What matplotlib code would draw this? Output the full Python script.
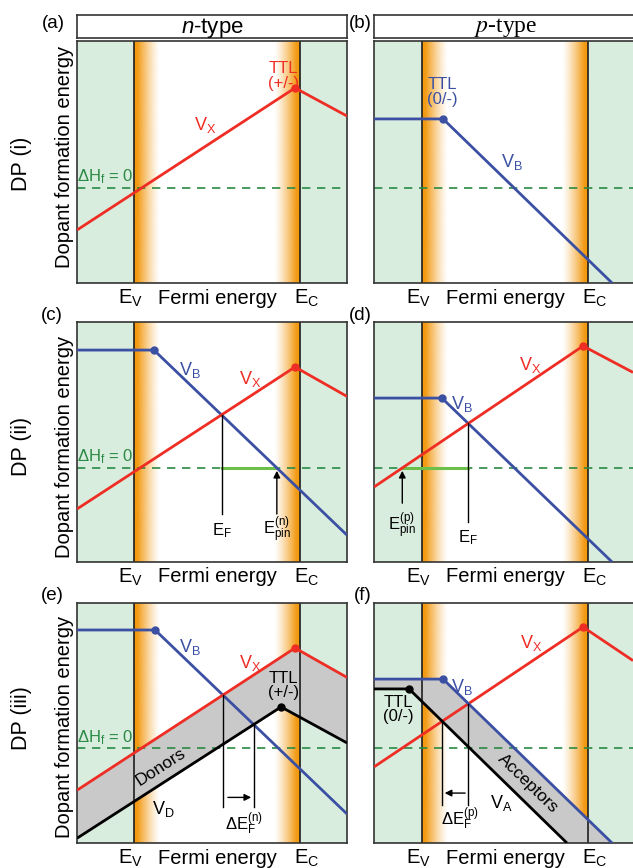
## Dopant formation energy schematics, n-type / p-type, three doping principles

import numpy as np
import matplotlib.pyplot as plt
from matplotlib.colors import to_rgb

plt.rcParams['font.family'] = 'Liberation Sans'
plt.rcParams['mathtext.fontset'] = 'custom'
plt.rcParams['mathtext.rm'] = 'Liberation Sans'
plt.rcParams['mathtext.it'] = 'Liberation Sans:italic'

RED = '#ee2d24'
BLUE = '#3b50a3'
DGREEN = '#2a8a43'
LGREEN = '#6cc04a'
GREEN_BG = '#d9eddf'
ORANGE = '#f39a12'
GRAY = '#c9c9c9'

#Data: x in band-gap units (E_V = 0, E_C = 1), y = fraction of panel height
dh0 = [0.393, 0.392, 0.396]   # Delta H_f = 0 level for each row

vx_a_x = [-0.343, 0.97, 1.283]
vx_a_y = [0.219, 0.806, 0.69]

vb_b_x = [-0.289, 0.127, 1.145]
vb_b_y = [0.678, 0.678, 0.0]

vb_c_x = [-0.343, 0.12, 1.283]
vb_c_y = [0.883, 0.883, 0.112]
vx_c_x = [-0.343, 0.97, 1.283]
vx_c_y = [0.221, 0.8125, 0.69]

vx_d_x = [-0.289, 0.97, 1.271]
vx_d_y = [0.3125, 0.9, 0.79]
vb_d_x = [-0.289, 0.12, 1.145]
vb_d_y = [0.683, 0.683, 0.0]

vb_e_x = [-0.343, 0.127, 1.283]
vb_e_y = [0.8875, 0.8875, 0.121]
vx_e_x = [-0.343, 0.97, 1.283]
vx_e_y = [0.22, 0.8125, 0.69]
vd_e_x = [-0.343, 0.886, 1.283]
vd_e_y = [0.02, 0.567, 0.417]

vb_f_x = [-0.289, 0.127, 1.145]
vb_f_y = [0.683, 0.683, 0.0]
va_f_x = [-0.289, -0.078, 0.873]
va_f_y = [0.642, 0.642, 0.0]
vx_f_x = [-0.289, 0.97, 1.271]
vx_f_y = [0.317, 0.9, 0.76]

panel_letters = ['(a)', '(b)', '(c)', '(d)', '(e)', '(f)']
row_labels = ['DP (i)', 'DP (ii)', 'DP (iii)']


#Figure in pixel units
W, H = 633, 868
fig = plt.figure(figsize=(W/100, H/100), dpi=100)
GAP = 166   # pixels between E_V and E_C

row_top = [41, 322, 603]
row_bot = [283, 562, 843]
col_lr = [(77, 347, 134), (374, 637, 422)]   # left, right, E_V pixel


def cross(x1, y1, x2, y2, lo, hi):
    #x where two piecewise-linear curves meet
    xs = np.linspace(lo, hi, 6001)
    d = np.interp(xs, x1, y1) - np.interp(xs, x2, y2)
    i = np.where(np.diff(np.sign(d)) != 0)[0][0]
    return xs[i], np.interp(xs[i], x1, y1)


def make_panel(r, c):
    left, right, ev = col_lr[c]
    top, bot = row_top[r], row_bot[r]
    ax = fig.add_axes([left/W, 1-bot/H, (right-left)/W, (bot-top)/H])
    x0, x1 = (left-ev)/GAP, (right-ev)/GAP
    ax.axvspan(x0, 0, color=GREEN_BG, lw=0, zorder=0)
    ax.axvspan(1, x1, color=GREEN_BG, lw=0, zorder=0)
    t = np.linspace(0, 1, 300)
    rgba = np.zeros((1, 300, 4))
    rgba[..., :3] = to_rgb(ORANGE)
    rgba[0, :, 3] = np.clip(1.15*(1-t), 0, 1)**1.3
    w = 0.155
    ax.imshow(rgba, extent=(0, w, 0, 1), aspect='auto', zorder=0.5, interpolation='bilinear')
    ax.imshow(rgba[:, ::-1], extent=(1-w, 1, 0, 1), aspect='auto', zorder=0.5, interpolation='bilinear')
    ax.axvline(0, color='#1e1e1e', lw=1.2, zorder=1.5)
    ax.axvline(1, color='#1e1e1e', lw=1.2, zorder=1.5)
    ax.axhline(dh0[r], color=DGREEN, lw=1.2, dashes=(5, 4), zorder=2)
    ax.set_xlim(x0, x1)
    ax.set_ylim(0, 1)
    ax.set_xticks([])
    ax.set_yticks([])
    for s in ax.spines.values():
        s.set_color('#333333')
        s.set_linewidth(1.2)
    #x-axis labels
    yl = -15/(bot-top)
    ax.text(-0.02, yl, r'E$_\mathrm{V}$', ha='center', va='center', fontsize=14.5)
    ax.text(0.5, yl, 'Fermi energy', ha='center', va='center', fontsize=14.5)
    ax.text(1.04, yl, r'E$_\mathrm{C}$', ha='center', va='center', fontsize=14.5)
    if c == 0:
        ax.text(-0.175, dh0[r]+0.045, r'ΔH$_\mathrm{f}$ = 0', color=DGREEN,
                ha='center', va='center', fontsize=12)
    return ax


def curve(ax, xs, ys, color, dot=None):
    ax.plot(xs, ys, color=color, lw=2, zorder=3, solid_capstyle='butt')
    if dot is not None:
        ax.plot(xs[dot], ys[dot], 'o', color=color, ms=5, zorder=4)


def vline(ax, x, y0, y1):
    ax.plot([x, x], [y0, y1], color='black', lw=1, zorder=3)


def arrow(ax, xy, xytext):
    ax.annotate('', xy=xy, xytext=xytext,
                arrowprops=dict(arrowstyle='-|>', color='black', lw=1,
                                mutation_scale=10, shrinkA=0, shrinkB=0), zorder=4)


#(a) n-type, DP (i)
ax = make_panel(0, 0)
curve(ax, vx_a_x, vx_a_y, RED, dot=1)
ax.text(0.43, 0.653, r'V$_\mathrm{X}$', color=RED, ha='center', va='center', fontsize=13)
ax.text(0.9, 0.855, 'TTL\n(+/-)', color=RED, ha='center', va='center', fontsize=12, linespacing=0.95)

#(b) p-type, DP (i)
ax = make_panel(0, 1)
curve(ax, vb_b_x, vb_b_y, BLUE, dot=1)
ax.text(0.54, 0.5, r'V$_\mathrm{B}$', color=BLUE, ha='center', va='center', fontsize=13)
ax.text(0.12, 0.79, 'TTL\n(0/-)', color=BLUE, ha='center', va='center', fontsize=12, linespacing=0.95)

#(c) n-type, DP (ii)
ax = make_panel(1, 0)
curve(ax, vb_c_x, vb_c_y, BLUE, dot=1)
curve(ax, vx_c_x, vx_c_y, RED, dot=1)
xf, yf = cross(vx_c_x, vx_c_y, vb_c_x, vb_c_y, 0, 1)
xp, _ = cross(vb_c_x, vb_c_y, [-1, 2], [dh0[1]]*2, 0.2, 1.2)
ax.plot([xf, xp], [dh0[1]]*2, color=LGREEN, lw=2.2, zorder=2.5)
vline(ax, xf, yf, 0.2)
arrow(ax, (xp, dh0[1]-0.012), (xp, 0.2))
ax.text(xf, 0.13, r'E$_\mathrm{F}$', ha='center', va='center', fontsize=12)
ax.text(xp, 0.135, r'E$_\mathrm{pin}^\mathrm{(n)}$', ha='center', va='center', fontsize=12)
ax.text(0.337, 0.8, r'V$_\mathrm{B}$', color=BLUE, ha='center', va='center', fontsize=13)
ax.text(0.7, 0.763, r'V$_\mathrm{X}$', color=RED, ha='center', va='center', fontsize=13)

#(d) p-type, DP (ii)
ax = make_panel(1, 1)
curve(ax, vb_d_x, vb_d_y, BLUE, dot=1)
curve(ax, vx_d_x, vx_d_y, RED, dot=1)
xf, yf = cross(vx_d_x, vx_d_y, vb_d_x, vb_d_y, 0, 1)
xp, _ = cross(vx_d_x, vx_d_y, [-1, 2], [dh0[1]]*2, -0.29, 0.5)
ax.plot([xp, xf], [dh0[1]]*2, color=LGREEN, lw=2.2, zorder=2.5)
vline(ax, xf, yf, 0.165)
arrow(ax, (xp, dh0[1]-0.012), (xp, 0.245))
ax.text(xf, 0.1, r'E$_\mathrm{F}$', ha='center', va='center', fontsize=12)
ax.text(xp, 0.15, r'E$_\mathrm{pin}^\mathrm{(p)}$', ha='center', va='center', fontsize=12)
ax.text(0.24, 0.66, r'V$_\mathrm{B}$', color=BLUE, ha='center', va='center', fontsize=13)
ax.text(0.65, 0.82, r'V$_\mathrm{X}$', color=RED, ha='center', va='center', fontsize=13)

#(e) n-type, DP (iii)
ax = make_panel(2, 0)
xs = np.linspace(vx_e_x[0], vx_e_x[-1], 400)
ax.fill_between(xs, np.interp(xs, vd_e_x, vd_e_y), np.interp(xs, vx_e_x, vx_e_y),
                color=GRAY, lw=0, zorder=1)
curve(ax, vb_e_x, vb_e_y, BLUE, dot=1)
curve(ax, vx_e_x, vx_e_y, RED, dot=1)
curve(ax, vd_e_x, vd_e_y, 'black', dot=1)
x1, y1 = cross(vx_e_x, vx_e_y, vb_e_x, vb_e_y, 0, 1)
x2, y2 = cross(vd_e_x, vd_e_y, vb_e_x, vb_e_y, 0, 1)
vline(ax, x1, y1, 0.15)
vline(ax, x2, y2, 0.15)
arrow(ax, (x2-0.015, 0.19), (x1+0.03, 0.19))
ax.text(0.665, 0.078, r'ΔE$_\mathrm{F}^\mathrm{(n)}$', ha='center', va='center', fontsize=12)
ax.text(0.16, 0.315, 'Donors', rotation=33, ha='center', va='center', fontsize=12.5)
ax.text(0.175, 0.14, r'V$_\mathrm{D}$', ha='center', va='center', fontsize=13)
ax.text(0.9, 0.655, 'TTL\n(+/-)', ha='center', va='center', fontsize=12, linespacing=0.95)
ax.text(0.337, 0.815, r'V$_\mathrm{B}$', color=BLUE, ha='center', va='center', fontsize=13)
ax.text(0.7, 0.75, r'V$_\mathrm{X}$', color=RED, ha='center', va='center', fontsize=13)

#(f) p-type, DP (iii)
ax = make_panel(2, 1)
xs = np.linspace(vb_f_x[0], 1.3, 400)
ax.fill_between(xs, np.interp(xs, va_f_x, va_f_y, right=0), np.interp(xs, vb_f_x, vb_f_y, right=0),
                color=GRAY, lw=0, zorder=1)
curve(ax, vx_f_x, vx_f_y, RED, dot=1)
curve(ax, vb_f_x, vb_f_y, BLUE, dot=1)
curve(ax, va_f_x, va_f_y, 'black', dot=1)
x1, y1 = cross(vx_f_x, vx_f_y, va_f_x, va_f_y, -0.05, 0.6)
x2, y2 = cross(vx_f_x, vx_f_y, vb_f_x, vb_f_y, -0.05, 0.6)
vline(ax, x1, y1, 0.16)
vline(ax, x2, y2, 0.16)
arrow(ax, (x1+0.015, 0.208), (x2-0.02, 0.208))
ax.text(0.23, 0.1, r'ΔE$_\mathrm{F}^\mathrm{(p)}$', ha='center', va='center', fontsize=12)
ax.text(0.64, 0.25, 'Acceptors', rotation=-44, ha='center', va='center', fontsize=12.5)
ax.text(0.48, 0.167, r'V$_\mathrm{A}$', ha='center', va='center', fontsize=13)
ax.text(-0.145, 0.555, 'TTL\n(0/-)', ha='center', va='center', fontsize=12, linespacing=0.95)
ax.text(0.24, 0.65, r'V$_\mathrm{B}$', color=BLUE, ha='center', va='center', fontsize=13)
ax.text(0.66, 0.833, r'V$_\mathrm{X}$', color=RED, ha='center', va='center', fontsize=13)


#Header boxes
def header(left, right, label, **kw):
    hx = fig.add_axes([left/W, 1-38/H, (right-left)/W, 23/H])
    hx.set_xticks([])
    hx.set_yticks([])
    for s in hx.spines.values():
        s.set_color('#333333')
        s.set_linewidth(1.2)
    hx.text(0.5, 0.45, label, ha='center', va='center', transform=hx.transAxes, **kw)

header(77, 347, r'$\it{n}$-type', fontsize=16)
header(374, 637, r'$\mathit{p}$-type', fontsize=17, family='Liberation Serif', math_fontfamily='stix')

#Panel letters and row labels
letter_pos = [(53, 23), (360, 23), (52, 315), (360, 315), (52, 596), (363, 596)]
for (px, py), lab in zip(letter_pos, panel_letters):
    fig.text(px/W, 1-py/H, lab, ha='center', va='center', fontsize=13.5)

row_centers = [164, 446, 718]
dopant_centers = [157, 447, 727]
for lab, yc, yd in zip(row_labels, row_centers, dopant_centers):
    fig.text(22/W, 1-yc/H, lab, rotation=90, ha='center', va='center', fontsize=15.5)
    fig.text(65/W, 1-yd/H, 'Dopant formation energy', rotation=90, ha='center', va='center', fontsize=14.5)

plt.savefig('out.png', dpi=100)
